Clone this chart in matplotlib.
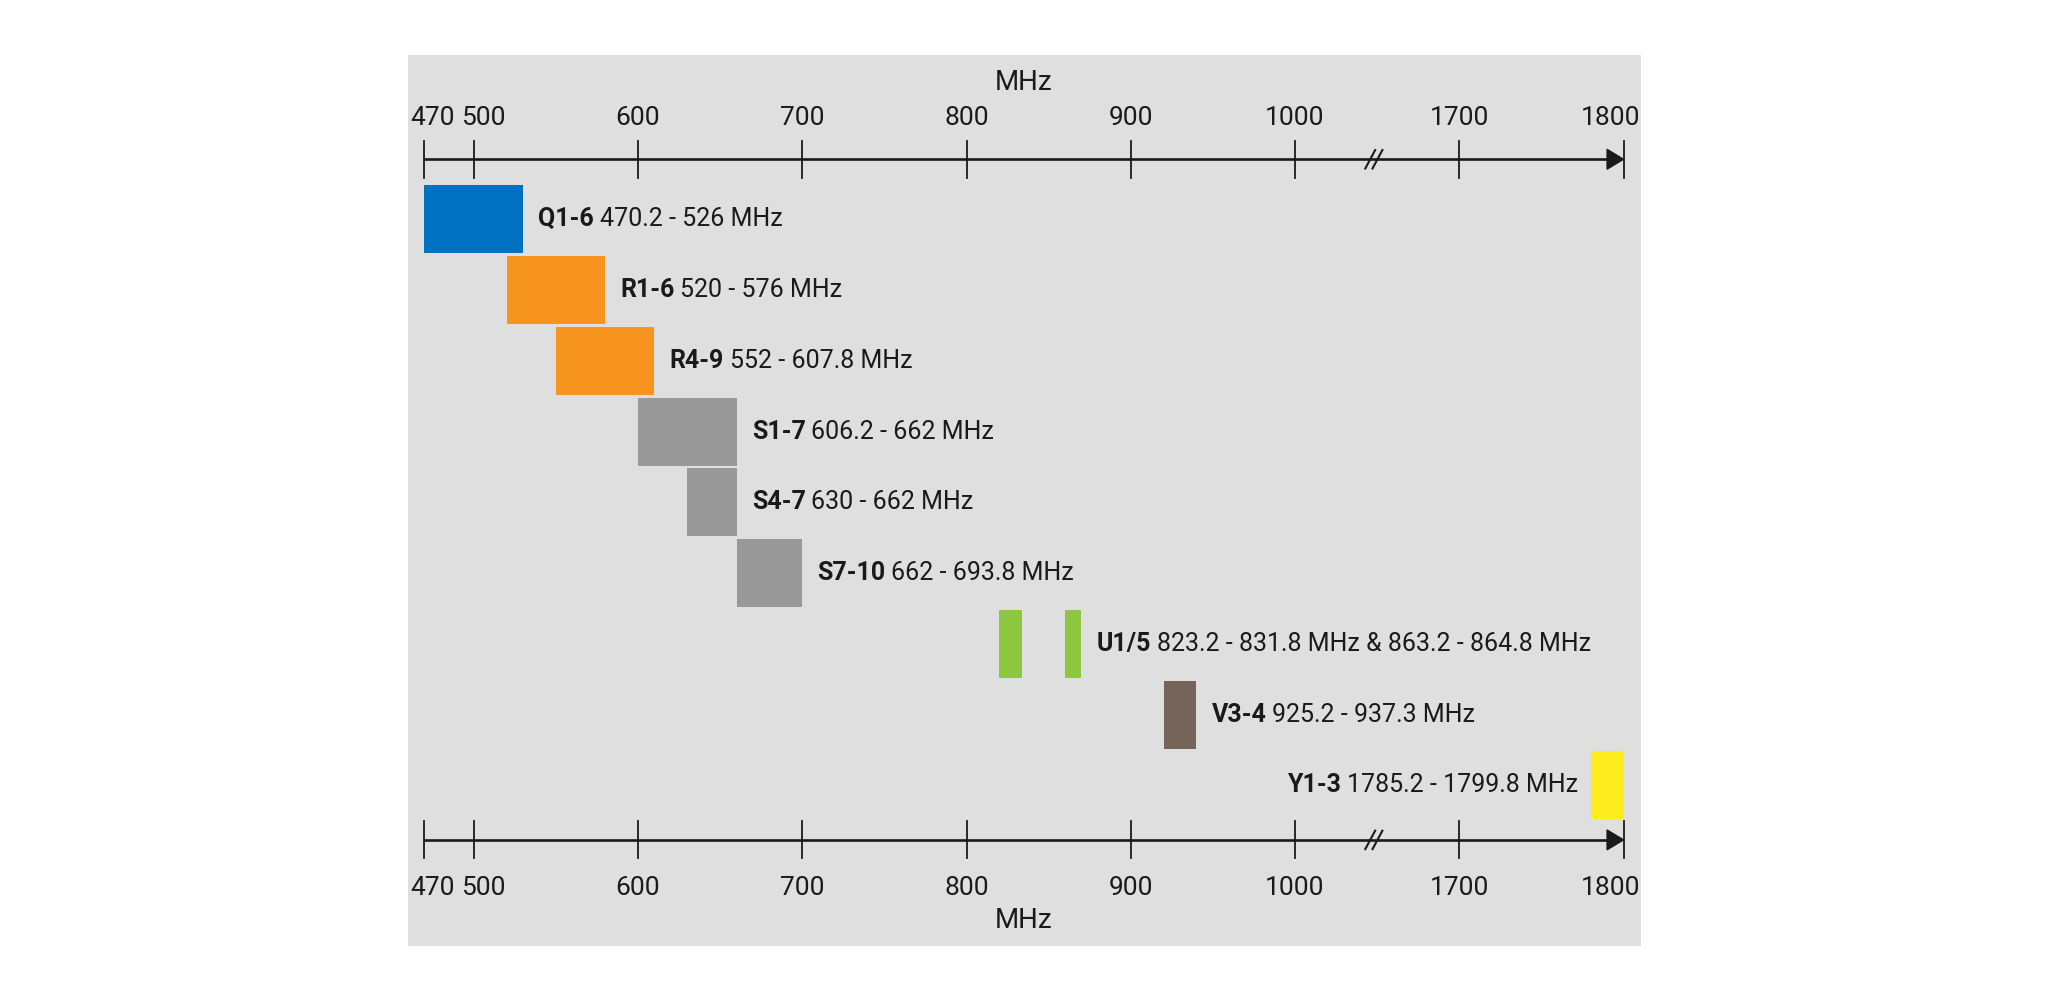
import matplotlib
matplotlib.use("Agg")
import matplotlib.pyplot as plt
from matplotlib.patches import Polygon

# ---------------- data ----------------
codes = ["Q1-6", "R1-6", "R4-9", "S1-7", "S4-7", "S7-10", "U1/5", "V3-4", "Y1-3"]
ranges = ["470.2 - 526 MHz", "520 - 576 MHz", "552 - 607.8 MHz", "606.2 - 662 MHz",
          "630 - 662 MHz", "662 - 693.8 MHz", "823.2 - 831.8 MHz & 863.2 - 864.8 MHz",
          "925.2 - 937.3 MHz", "1785.2 - 1799.8 MHz"]
# drawn bar extents (MHz); U1/5 has two blocks
bar_starts = [[470], [520], [550], [600], [630], [660], [820, 860], [920], [1780]]
bar_ends = [[530], [580], [610], [660], [660], [700], [834, 870], [940], [1800]]
colors = ["#0070C0", "#F7941D", "#F7941D", "#999999", "#999999", "#999999",
          "#8DC63F", "#75645A", "#FFEC1C"]
tick_values = [470, 500, 600, 700, 800, 900, 1000, 1700, 1800]
tick_labels = ["470", "500", "600", "700", "800", "900", "1000", "1700", "1800"]
unit = "MHz"

# axis break: 1000 -> 1700 compressed to a gap of 100
def tx(v):
    return v if v <= 1000 else v - 600

plt.rcParams["font.family"] = ["Roboto", "DejaVu Sans"]

W, H = 2048, 1000
fig = plt.figure(figsize=(W / 100, H / 100), dpi=100)
fig.patch.set_facecolor("white")

# panel in pixels
px0, px1, py0, py1 = 407.5, 1640.5, 55, 945.6
ax = fig.add_axes([px0 / W, 1 - py1 / H, (px1 - px0) / W, (py1 - py0) / H])
ax.set_facecolor("#DFDFDF")
for s in ax.spines.values():
    s.set_visible(False)
ax.set_xticks([]); ax.set_yticks([])

# x scale: 470 -> 424.5 px, 1200 (1800) -> 1623.5 px
sx = (1623.5 - 424.5) / (tx(1800) - 470)
ax.set_xlim(470 - (424.5 - px0) / sx, tx(1800) + (px1 - 1623.5) / sx)
# y: row units, row 0 centred at 219.4 px, spacing 70.75 px
row0, rs = 219.4, 70.75
ax.set_ylim((py1 - row0) / rs, (py0 - row0) / rs)

bar_h = 0.96
for i, (c, st, en) in enumerate(zip(colors, bar_starts, bar_ends)):
    for a, b in zip(st, en):
        ax.barh(i, tx(b) - tx(a), left=tx(a), height=bar_h, color=c, edgecolor="none", zorder=2)

fs = 18
tc = "#1a1a1a"
for i, (code, rng) in enumerate(zip(codes, ranges)):
    if i < len(codes) - 1:
        xe = tx(max(bar_ends[i]))
        t1 = ax.annotate(code, xy=(xe, i), xytext=(11, 0), textcoords="offset points",
                         ha="left", va="center", fontsize=fs, fontweight="bold", color=tc)
        ax.annotate(rng, xy=(1, 0), xycoords=t1, xytext=(4, 0), textcoords="offset points",
                    ha="left", va="bottom", fontsize=fs, color=tc)
    else:
        xs = tx(min(bar_starts[i]))
        t2 = ax.annotate(rng, xy=(xs, i), xytext=(-9, 0), textcoords="offset points",
                         ha="right", va="center", fontsize=fs, color=tc)
        ax.annotate(code, xy=(0, 0), xycoords=t2, xytext=(-4, 0), textcoords="offset points",
                    ha="right", va="bottom", fontsize=fs, fontweight="bold", color=tc)

# axes lines (top and bottom)
label_dx = {"470": 6, "500": 7, "1800": -9}
for yline, tick_lo, tick_hi, ylab, va_lab, ymhz, va_mhz in [
        (-0.85, -1.11, -0.59, -1.27, "bottom", -1.75, "bottom"),
        (8.77, 8.51, 9.03, 9.28, "top", 9.72, "top")]:
    x_start, x_end = tx(470), tx(1800)
    ax.plot([x_start, x_end - 6], [yline, yline], color=tc, lw=1.9, solid_capstyle="butt", zorder=3)
    for v, lab in zip(tick_values, tick_labels):
        ax.plot([tx(v), tx(v)], [tick_lo, tick_hi], color=tc, lw=1.3, zorder=3)
        ax.annotate(lab, xy=(tx(v), ylab), xytext=(label_dx.get(lab, 0), 0), textcoords="offset points",
                    ha="center", va=va_lab, fontsize=19, color=tc)
    # arrow head
    aw, ah = 10, 0.14
    ax.add_patch(Polygon([[x_end, yline], [x_end - aw, yline - ah], [x_end - aw, yline + ah]],
                         closed=True, color=tc, zorder=4))
    # break marks
    xb = (tx(1000) + tx(1700)) / 2 - 2
    for d in (-2.2, 2.2):
        ax.plot([xb + d - 3, xb + d + 3], [yline + 0.13, yline - 0.13], color=tc, lw=1.5, zorder=5)
    ax.text(tx(800) + 35, ymhz, unit, ha="center", va=va_mhz, fontsize=20, color=tc)

fig.savefig("out.png", dpi=100, facecolor="white")
